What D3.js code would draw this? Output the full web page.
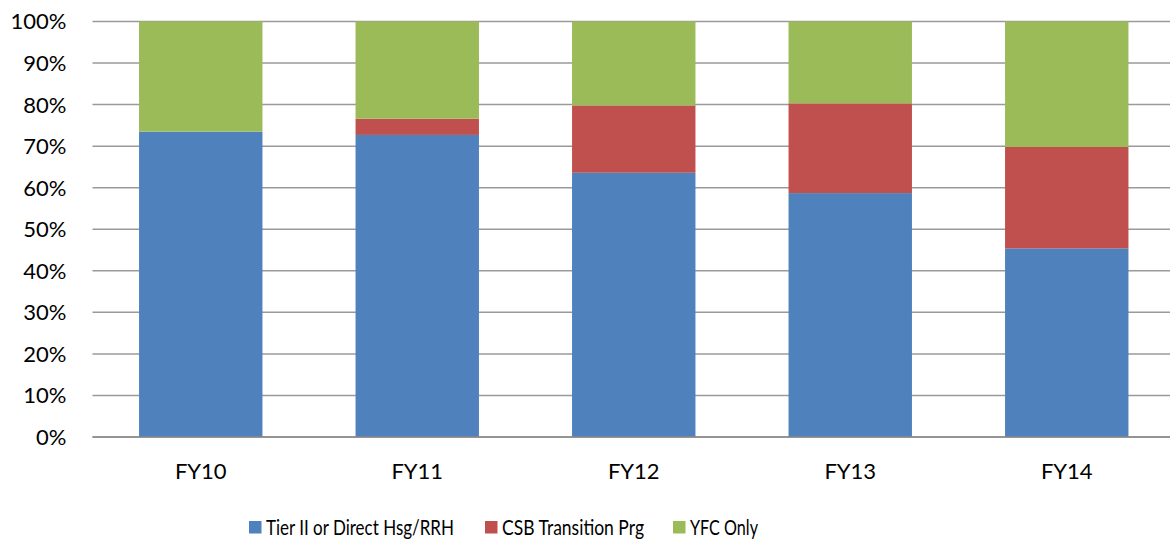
<!DOCTYPE html>
<html>
<head>
<meta charset="utf-8">
<script src="https://cdn.jsdelivr.net/npm/d3@7"></script>
<style>
  html, body { margin: 0; padding: 0; background: #fff; }
  svg { display: block; }
  text { font-family: Lato, "Open Sans", sans-serif; fill: #000; }
</style>
</head>
<body>
<svg id="chart" width="1170" height="540"></svg>
<script>
// Fiscal years on the x axis
const categories = ["FY10", "FY11", "FY12", "FY13", "FY14"];

// Share of outcomes per year (percent)
const tierII = [73.5, 72.7, 63.6, 58.7, 45.4];
const csbTransition = [0, 3.9, 16.2, 21.6, 24.4];
const yfcOnly = [26.5, 23.4, 20.2, 19.7, 30.2];

const seriesNames = ["Tier II or Direct Hsg/RRH", "CSB Transition Prg", "YFC Only"];
const seriesColors = ["#4F81BD", "#C0504D", "#9BBB59"];
const yTicks = [0, 10, 20, 30, 40, 50, 60, 70, 80, 90, 100];

const rows = categories.map((c, i) => ({
  cat: c,
  s0: tierII[i],
  s1: csbTransition[i],
  s2: yfcOnly[i]
}));

const svg = d3.select("#chart");
// The plot area runs slightly past the right edge of the canvas
const margin = { top: 21.5, right: -5, bottom: 103, left: 92.5 };
const width = 1170 - margin.left - margin.right;
const height = 540 - margin.top - margin.bottom;

const g = svg.append("g").attr("transform", `translate(${margin.left},${margin.top})`);

const x = d3.scaleBand().domain(categories).range([0, width]).paddingInner(0.43).paddingOuter(0.215);
const y = d3.scaleLinear().domain([0, 100]).range([height, 0]);

// Horizontal gridlines
g.selectAll("line.grid")
  .data(yTicks)
  .join("line")
  .attr("class", "grid")
  .attr("x1", 0)
  .attr("x2", width)
  .attr("y1", d => y(d))
  .attr("y2", d => y(d))
  .attr("stroke", "#9a9a9a")
  .attr("stroke-width", 1.5);

// Y tick labels
g.selectAll("text.ytick")
  .data(yTicks)
  .join("text")
  .attr("class", "ytick")
  .attr("x", -26)
  .attr("y", d => y(d))
  .attr("dy", "0.36em")
  .attr("text-anchor", "end")
  .attr("font-size", 22)
  .text(d => d + "%");

// Stacked bars
const stack = d3.stack().keys(["s0", "s1", "s2"]);
const layers = stack(rows);

g.selectAll("g.layer")
  .data(layers)
  .join("g")
  .attr("class", "layer")
  .attr("fill", (d, i) => seriesColors[i])
  .selectAll("rect")
  .data(d => d)
  .join("rect")
  .attr("x", d => x(d.data.cat))
  .attr("width", x.bandwidth())
  .attr("y", d => y(d[1]))
  .attr("height", d => y(d[0]) - y(d[1]));

// Baseline
g.append("line")
  .attr("x1", 0).attr("x2", width)
  .attr("y1", y(0)).attr("y2", y(0))
  .attr("stroke", "#8a8a8a")
  .attr("stroke-width", 1.5);

// X category labels
g.selectAll("text.xtick")
  .data(categories)
  .join("text")
  .attr("class", "xtick")
  .attr("x", d => x(d) + x.bandwidth() / 2)
  .attr("y", height + 42)
  .attr("text-anchor", "middle")
  .attr("font-size", 22)
  .text(d => d);

// Legend (labels condensed to a narrow face width)
const legendX = [249, 485, 673];
const legendTextWidth = [188, 142, 68];
const legend = svg.append("g");
seriesNames.forEach((name, i) => {
  legend.append("rect")
    .attr("x", legendX[i])
    .attr("y", 521)
    .attr("width", 12.5)
    .attr("height", 12.5)
    .attr("fill", seriesColors[i]);
  legend.append("text")
    .attr("x", legendX[i] + 17)
    .attr("y", 535)
    .attr("font-size", 22)
    .attr("textLength", legendTextWidth[i])
    .attr("lengthAdjust", "spacingAndGlyphs")
    .text(name);
});
</script>
</body>
</html>
